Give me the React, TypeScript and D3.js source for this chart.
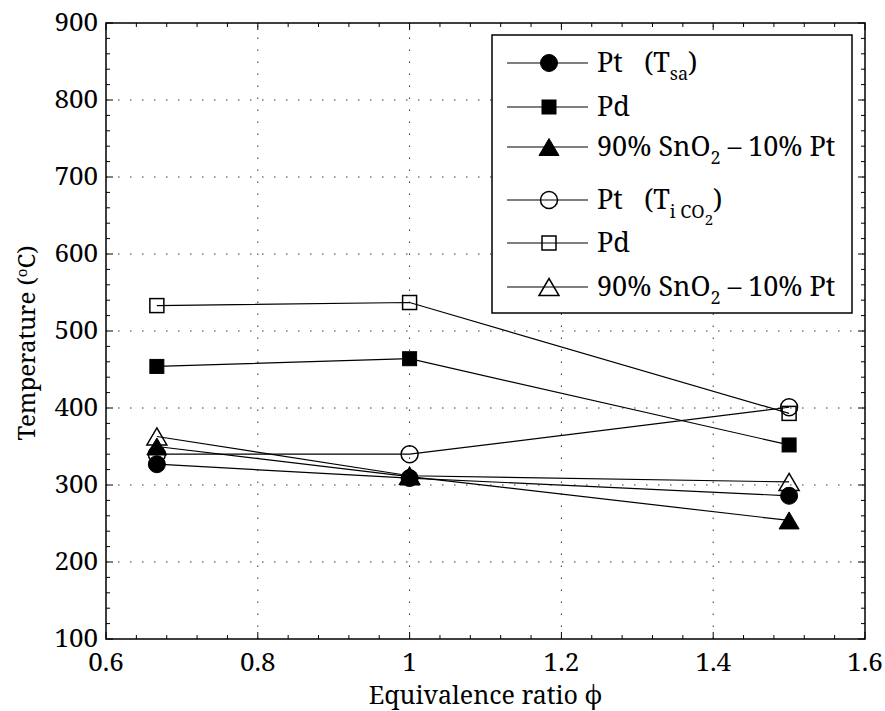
import React from 'react'
import * as d3 from 'd3'

// data
const phi = [0.667, 1.0, 1.5]
const ptSa = [327, 309, 286]
const pdSa = [454, 464, 352]
const snSa = [350, 311, 254]
const ptCo = [340, 340, 401]
const pdCo = [533, 537, 393]
const snCo = [363, 312, 304]

const xTicks = [0.6, 0.8, 1, 1.2, 1.4, 1.6]
const yTicks = [100, 200, 300, 400, 500, 600, 700, 800, 900]

const W = 885
const H = 711
const m = { left: 106, right: 865, top: 23, bottom: 639 }
const FONT = "'Noto Serif', 'DejaVu Serif', serif"

const x = d3.scaleLinear().domain([0.6, 1.6]).range([m.left, m.right])
const y = d3.scaleLinear().domain([100, 900]).range([m.bottom, m.top])

type Shape = 'circle' | 'square' | 'triangle'
const series: { vals: number[]; shape: Shape; filled: boolean }[] = [
  { vals: ptSa, shape: 'circle', filled: true },
  { vals: pdSa, shape: 'square', filled: true },
  { vals: snSa, shape: 'triangle', filled: true },
  { vals: ptCo, shape: 'circle', filled: false },
  { vals: pdCo, shape: 'square', filled: false },
  { vals: snCo, shape: 'triangle', filled: false },
]

function Marker({ cx, cy, shape, filled }: { cx: number; cy: number; shape: Shape; filled: boolean }) {
  const fill = filled ? '#000' : 'none'
  const sw = filled ? 1 : 1.5
  if (shape === 'circle') return <circle cx={cx} cy={cy} r={8.5} fill={fill} stroke="#000" strokeWidth={sw} />
  if (shape === 'square') return <rect x={cx - 7} y={cy - 7} width={14} height={14} fill={fill} stroke="#000" strokeWidth={sw} />
  return <path d={`M${cx},${cy - 8.5}L${cx + 10},${cy + 8.5}L${cx - 10},${cy + 8.5}Z`} fill={fill} stroke="#000" strokeWidth={sw} />
}

const line = d3.line<[number, number]>().x(d => x(d[0])).y(d => y(d[1]))

export default function App() {
  const xMinor = d3.range(0.6, 1.6001, 0.04)
  const yMinor = d3.range(100, 900.01, 20)
  const legendRows = [63, 107, 147, 200, 243, 287]
  const sub = { fontSize: 18 }
  const gap = '\u00a0\u00a0\u00a0'

  const labels = [
    <>Pt{gap}(T<tspan dy={8} style={sub}>sa</tspan><tspan dy={-8}>)</tspan></>,
    <>Pd</>,
    <>90% SnO<tspan dy={8} style={sub}>2</tspan><tspan dy={-8}> – 10% Pt</tspan></>,
    <>Pt{gap}(T<tspan dy={9} style={sub}>i CO</tspan><tspan dy={7} style={{ fontSize: 15 }}>2</tspan><tspan dy={-16}>)</tspan></>,
    <>Pd</>,
    <>90% SnO<tspan dy={8} style={sub}>2</tspan><tspan dy={-8}> – 10% Pt</tspan></>,
  ]

  return (
    <svg width={W} height={H} fontFamily={FONT} style={{ position: 'absolute', left: 0, top: 0, background: '#fff', fontFamily: FONT }}>
      <rect x={0} y={0} width={W} height={H} fill="#fff" />
      {/* grid */}
      <g stroke="#333" strokeWidth={1} strokeDasharray="1.5 10.5">
        {xTicks.slice(1, -1).map(t => (
          <line key={'gx' + t} x1={x(t)} x2={x(t)} y1={m.bottom} y2={m.top} />
        ))}
        {yTicks.slice(1, -1).map(t => (
          <line key={'gy' + t} x1={m.left} x2={m.right} y1={y(t)} y2={y(t)} />
        ))}
      </g>

      {/* ticks */}
      <g stroke="#000" strokeWidth={1}>
        {xMinor.map((t, i) => {
          const len = Math.abs((t - 0.6) / 0.2 - Math.round((t - 0.6) / 0.2)) < 1e-6 ? 7 : 4
          return (
            <g key={'xt' + i}>
              <line x1={x(t)} x2={x(t)} y1={m.bottom} y2={m.bottom - len} />
              <line x1={x(t)} x2={x(t)} y1={m.top} y2={m.top + len} />
            </g>
          )
        })}
        {yMinor.map((t, i) => {
          const len = Math.round(t) % 100 === 0 ? 7 : 4
          return (
            <g key={'yt' + i}>
              <line x1={m.left} x2={m.left + len} y1={y(t)} y2={y(t)} />
              <line x1={m.right} x2={m.right - len} y1={y(t)} y2={y(t)} />
            </g>
          )
        })}
      </g>

      {/* data */}
      {series.map((s, i) => (
        <g key={'s' + i}>
          <path d={line(phi.map((p, j) => [p, s.vals[j]] as [number, number])) || ''} fill="none" stroke="#000" strokeWidth={1.2} />
          {phi.map((p, j) => (
            <Marker key={j} cx={x(p)} cy={y(s.vals[j])} shape={s.shape} filled={s.filled} />
          ))}
        </g>
      ))}

      {/* frame */}
      <rect x={m.left} y={m.top} width={m.right - m.left} height={m.bottom - m.top} fill="none" stroke="#000" strokeWidth={1.5} />

      {/* tick labels */}
      <g fontSize={26} fill="#000">
        {xTicks.map(t => (
          <text key={'xl' + t} x={x(t)} y={671} textAnchor="middle">{d3.format('')(t)}</text>
        ))}
        {yTicks.map(t => (
          <text key={'yl' + t} x={98} y={y(t) + 8} textAnchor="end">{t}</text>
        ))}
      </g>

      {/* axis titles */}
      <text x={(m.left + m.right) / 2} y={704} textAnchor="middle" fontSize={25}>Equivalence ratio ϕ</text>
      <text transform={`translate(35,${(m.top + m.bottom) / 2 + 12}) rotate(-90)`} textAnchor="middle" fontSize={24}>
        Temperature (<tspan dy={-8} style={{ fontSize: 15 }}>o</tspan><tspan dy={8}>C)</tspan>
      </text>

      {/* legend */}
      <rect x={492} y={35} width={360} height={278} fill="#fff" stroke="#000" strokeWidth={1.5} />
      {series.map((s, i) => (
        <g key={'lg' + i}>
          <line x1={507} x2={588} y1={legendRows[i]} y2={legendRows[i]} stroke="#000" strokeWidth={1.2} />
          <Marker cx={549} cy={legendRows[i]} shape={s.shape} filled={s.filled} />
          <text x={597} y={legendRows[i] + 9} fontSize={27}>{labels[i]}</text>
        </g>
      ))}
    </svg>
  )
}
